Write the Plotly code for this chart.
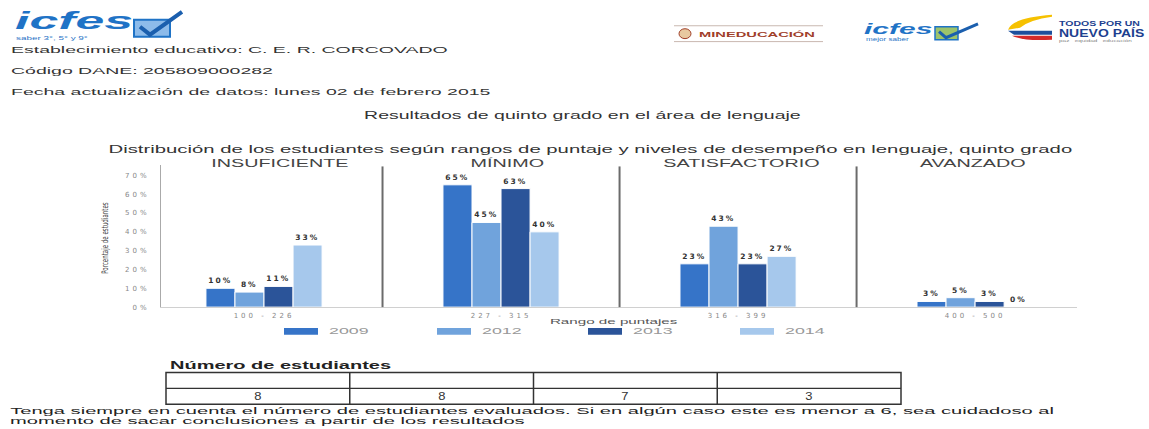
import plotly.graph_objects as go

# ---------------- data ----------------
ranges = ["100 - 226", "227 - 315", "316 - 399", "400 - 500"]
levels = ["INSUFICIENTE", "MÍNIMO", "SATISFACTORIO", "AVANZADO"]
years = ["2009", "2012", "2013", "2014"]
pct_2009 = [10, 65, 23, 3]
pct_2012 = [8, 45, 43, 5]
pct_2013 = [11, 63, 23, 3]
pct_2014 = [33, 40, 27, 0]
students = [8, 8, 7, 3]
ytick_vals = [0, 10, 20, 30, 40, 50, 60, 70]

series = [pct_2009, pct_2012, pct_2013, pct_2014]
colors = ["#3674c8", "#70a3dc", "#2b5499", "#a6c8ec"]

W, H = 1149, 429
def px(x):
    return x / W
def py(y):
    return 1 - y / H

SANS = "Liberation Sans, Arial, sans-serif"
WIDE = "DejaVu Sans, sans-serif"

fig = go.Figure()

for yr, vals, col in zip(years, series, colors):
    fig.add_trace(go.Bar(
        x=ranges, y=vals, name=yr,
        marker=dict(color=col, line=dict(color="white", width=1)),
        text=[f"{v}%" for v in vals], textposition="outside",
        textfont=dict(family="DejaVu Sans, sans-serif", size=7.5, color="#333", weight="bold"),
        cliponaxis=False, showlegend=False, hoverinfo="skip",
    ))

anns = []
def T(text, x, y, size, color="#333", anchor="left", sx=2.0, family=SANS, bold=False, **kw):
    anns.append(dict(text=f"<b>{text}</b>" if bold else text, x=px(x), y=py(y), xref="paper", yref="paper",
                     xanchor=anchor, yanchor="middle", showarrow=False, name=f"sx:{sx}",
                     font=dict(family=family, size=size, color=color), **kw))

shapes = []

# header texts
T("Establecimiento educativo: C. E. R. CORCOVADO", 9, 50, 9.5, "#333", sx=2.05)
T("Código DANE: 205809000282", 9, 71, 9.5, "#333", sx=2.05)
T("Fecha actualización de datos: lunes 02 de febrero 2015", 9, 92, 9.5, "#333", sx=2.05)
T("Resultados de quinto grado en el área de lenguaje", 362, 117, 10, "#333", sx=1.95)
T("Distribución de los estudiantes según rangos de puntaje y niveles de desempeño en lenguaje, quinto grado",
  590, 151, 10, "#333", anchor="center", sx=2.03)

# level headers
head_x = [280, 507, 741, 973]
for lv, hx in zip(levels, head_x):
    T(lv, hx, 165, 11.5, "#444", anchor="center", sx=1.72)

# axis labels
T("Rango de puntajes", 613, 325, 8, "#555", anchor="center", sx=1.9)
T("Porcentaje de estudiantes", 105, 241, 9, "#444", anchor="center", sx=0.68,
  family="Liberation Sans Narrow, DejaVu Sans Condensed, sans-serif", textangle=-90)

# legend (custom)
sw_x = [284, 437, 588, 740]
for yr, col, sx0 in zip(years, colors, sw_x):
    shapes.append(dict(type="rect", xref="paper", yref="paper", x0=px(sx0), x1=px(sx0 + 34),
                       y0=py(338), y1=py(331), fillcolor=col, line=dict(width=0)))
    T(yr, sx0 + 43, 334.5, 8.5, "#999", sx=2.1)

# students table (grid + values)
tx0, tx1, ty0, tmid, ty1 = 166, 901, 376, 392, 408
ncol = len(students)
cw = (tx1 - tx0) / ncol
shapes.append(dict(type="rect", xref="paper", yref="paper", x0=px(tx0), x1=px(tx1), y0=py(ty1), y1=py(ty0),
                   line=dict(color="#333", width=1.5), fillcolor="rgba(0,0,0,0)"))
shapes.append(dict(type="line", xref="paper", yref="paper", x0=px(tx0), x1=px(tx1), y0=py(tmid), y1=py(tmid),
                   line=dict(color="#333", width=1.2)))
for i in range(1, ncol):
    shapes.append(dict(type="line", xref="paper", yref="paper", x0=px(tx0 + i * cw), x1=px(tx0 + i * cw),
                       y0=py(ty1), y1=py(ty0), line=dict(color="#333", width=1.5)))
for i, n in enumerate(students):
    T(str(n), tx0 + (i + 0.5) * cw, 400.5, 10, "#333", anchor="center", sx=1.3)

# table caption and footer
T("Número de estudiantes", 168, 369, 10, "#222", sx=2.0, bold=True)
T("Tenga siempre en cuenta el número de estudiantes evaluados. Si en algún caso este es menor a 6, sea cuidadoso al",
  8, 414, 9.5, "#222", sx=2.12)
T("momento de sacar conclusiones a partir de los resultados", 8, 424, 9.5, "#222", sx=2.12)

# logos (text-based)
T("<i>icfes</i>", 13, 21, 23, "#1f73c6", sx=2.25, bold=True)
T("saber 3°, 5° y 9°", 14, 38, 5.5, "#1f73c6", sx=1.8)
shapes.append(dict(type="rect", xref="paper", yref="paper", x0=px(134), x1=px(170), y0=py(37), y1=py(20),
                   fillcolor="#8dbbea", line=dict(color="#1f73c6", width=2)))
shapes.append(dict(type="path", xref="paper", yref="paper",
                   path=f"M {px(140)},{py(27)} L {px(150)},{py(35)} L {px(182)},{py(12)}",
                   line=dict(color="#1b5fae", width=4)))

shapes.append(dict(type="line", xref="paper", yref="paper", x0=px(674), x1=px(823), y0=py(26), y1=py(26),
                   line=dict(color="#c9b8b0", width=1)))
shapes.append(dict(type="line", xref="paper", yref="paper", x0=px(674), x1=px(823), y0=py(42), y1=py(42),
                   line=dict(color="#c9b8b0", width=1)))
shapes.append(dict(type="circle", xref="paper", yref="paper", x0=px(679), x1=px(691), y0=py(39), y1=py(29),
                   fillcolor="#e8c9a0", line=dict(color="#a0402a", width=1)))
T("MINEDUCACIÓN", 697, 34, 7, "#a0402a", sx=2.1, bold=True)

T("<i>icfes</i>", 862, 29, 15, "#1f73c6", sx=2.0, bold=True)
shapes.append(dict(type="rect", xref="paper", yref="paper", x0=px(935), x1=px(958), y0=py(40), y1=py(27),
                   fillcolor="#9cc36b", line=dict(color="#1f73c6", width=1.5)))
shapes.append(dict(type="path", xref="paper", yref="paper",
                   path=f"M {px(939)},{py(32)} L {px(946)},{py(38)} L {px(978)},{py(24)}",
                   line=dict(color="#1b5fae", width=3)))
T("mejor saber", 864, 40, 4.5, "#1f73c6", sx=1.8)

shapes.append(dict(type="path", xref="paper", yref="paper",
                   path=f"M {px(1052)},{py(15)} Q {px(1012)},{py(18)} {px(1008)},{py(30)} L {px(1020)},{py(28)} Q {px(1030)},{py(20)} {px(1052)},{py(17)} Z",
                   fillcolor="#f6c100", line=dict(width=0)))
shapes.append(dict(type="path", xref="paper", yref="paper",
                   path=f"M {px(1008)},{py(31)} L {px(1052)},{py(31)} L {px(1052)},{py(35)} L {px(1014)},{py(35)} Z",
                   fillcolor="#1d4f9c", line=dict(width=0)))
shapes.append(dict(type="path", xref="paper", yref="paper",
                   path=f"M {px(1012)},{py(36)} L {px(1052)},{py(36)} L {px(1052)},{py(40)} Q {px(1025)},{py(42)} {px(1012)},{py(36)} Z",
                   fillcolor="#d42a2a", line=dict(width=0)))
T("TODOS POR UN", 1057, 24, 7, "#1d3f8f", sx=1.5, bold=True)
T("NUEVO PAÍS", 1057, 33, 10, "#1d3f8f", sx=1.4, bold=True)
T("paz   equidad   educación", 1057, 41, 4, "#888", sx=1.6)

# separators between levels
for b in [0.5, 1.5, 2.5]:
    shapes.append(dict(type="line", xref="x", yref="paper", x0=b, x1=b, y0=py(310), y1=py(168),
                       line=dict(color="#6b6b6b", width=2)))

fig.update_layout(
    width=W, height=H, margin=dict(l=0, r=0, t=0, b=0),
    paper_bgcolor="white", plot_bgcolor="white",
    barmode="group", bargap=0.51, bargroupgap=0,
    annotations=anns, shapes=shapes,
    xaxis=dict(domain=[px(161), px(1077)], range=[-0.4346, 3.43], type="category",
               showgrid=False, showline=True, linecolor="#d0d0d0", linewidth=1,
               tickfont=dict(family=WIDE, size=7, color="#888"), ticks="", ticklabelstandoff=1,
               fixedrange=True),
    yaxis=dict(domain=[py(310), py(167)], range=[0, 75.3], tickmode="array", tickvals=ytick_vals,
               ticktext=[f"{v}%" for v in ytick_vals],
               showgrid=False, zeroline=False, showline=True, linecolor="#aaaaaa",
               linewidth=1, tickfont=dict(family=WIDE, size=7, color="#888"), ticks="",
               ticklabelstandoff=9, fixedrange=True),
    font=dict(family=SANS),
)

post = """
document.body.style.margin = '0';
document.body.style.padding = '0';
var gd = document.getElementById('{plot_id}');
function stretch(){
  var anns = (gd.layout && gd.layout.annotations) || [];
  gd.querySelectorAll('.annotation').forEach(function(g){
    var i = +g.getAttribute('data-index');
    var a = anns[i];
    if(!a || !a.name || String(a.name).indexOf('sx:') !== 0) return;
    var f = parseFloat(String(a.name).slice(3));
    var t = g.querySelector('text.annotation-text');
    if(!t) return;
    var o = a.xanchor === 'left' ? 'left' : (a.xanchor === 'right' ? 'right' : 'center');
    t.style.transformBox = 'fill-box';
    t.style.transformOrigin = o + ' center';
    t.style.transform = 'scaleX(' + f + ')';
  });
  gd.querySelectorAll('.xtick text').forEach(function(t){ t.style.letterSpacing = '3px'; });
  gd.querySelectorAll('.ytick text').forEach(function(t){ t.style.letterSpacing = '3px'; });
  gd.querySelectorAll('text.bartext').forEach(function(t){ t.style.letterSpacing = '2px'; });
}
stretch();
if (gd.on) gd.on('plotly_afterplot', stretch);
"""

fig.write_html("out.html", post_script=post, config={"displayModeBar": False, "staticPlot": True})
